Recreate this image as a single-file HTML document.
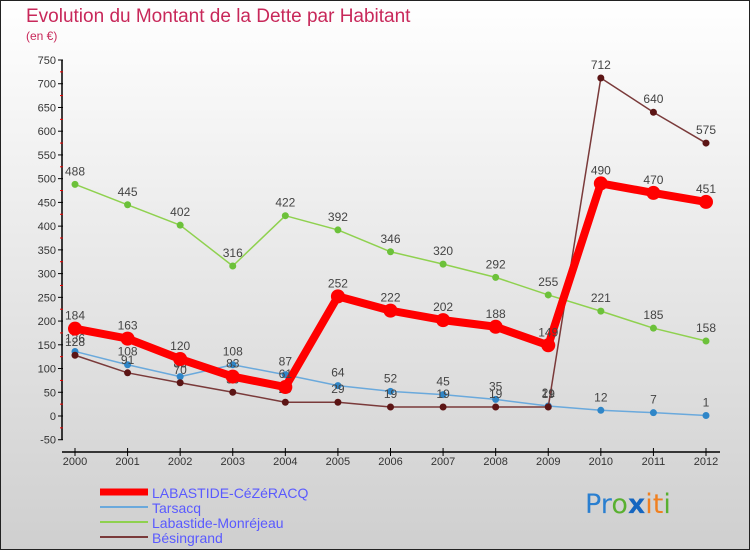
<!DOCTYPE html>
<html><head><meta charset="utf-8"><style>
html,body{margin:0;padding:0}
body{width:750px;height:550px;overflow:hidden;font-family:"Liberation Sans","DejaVu Sans",sans-serif}
</style></head><body>
<svg id="chart" width="750" height="550" xmlns="http://www.w3.org/2000/svg">
<defs><linearGradient id="bg" x1="0" y1="0" x2="0" y2="1"><stop offset="0" stop-color="#ffffff"/><stop offset="1" stop-color="#cfcfcf"/></linearGradient></defs>
<rect x="0.5" y="0.5" width="749" height="549" fill="url(#bg)" stroke="#222"/>
<text x="26" y="22" font-size="19" fill="#c8285a" font-weight="300">Evolution du Montant de la Dette par Habitant</text>
<text x="26" y="40" font-size="12" fill="#c8285a">(en €)</text>
<g id="axes"></g>
<g id="series"></g>
<g id="legend"></g>
<text x="585" y="513" font-size="27" font-family="'DejaVu Sans',sans-serif"><tspan fill="#2a7fd0">Pr</tspan><tspan fill="#59b030">o</tspan><tspan fill="#1566c0" font-weight="bold">x</tspan><tspan fill="#f08020">it</tspan><tspan fill="#59b030">i</tspan></text>
</svg>
<script>
const years=[2000,2001,2002,2003,2004,2005,2006,2007,2008,2009,2010,2011,2012];
const yTicks=[-50,0,50,100,150,200,250,300,350,400,450,500,550,600,650,700,750];
const labastide=[184,163,120,83,61,252,222,202,188,149,490,470,451];
const tarsacq=[136,108,83,108,87,64,52,45,35,21,12,7,1];
const monrejeau=[488,445,402,316,422,392,346,320,292,255,221,185,158];
const besingrand=[128,91,70,50,29,29,19,19,19,19,712,640,575];
const names=["LABASTIDE-CéZéRACQ","Tarsacq","Labastide-Monréjeau","Bésingrand"];

const NS="http://www.w3.org/2000/svg";
const x=i=>75+i*(706-75)/(years.length-1);
const y=v=>416-v*(356/750);
function mk(tag,attrs,parent){const e=document.createElementNS(NS,tag);for(const k in attrs)e.setAttribute(k,attrs[k]);parent.appendChild(e);return e;}
const axes=document.getElementById('axes');
const ser=document.getElementById('series');
// y axis
let ya=mk('line',{x1:62,y1:y(750),x2:62,y2:y(-50),stroke:'#000','stroke-width':1.5},axes);


yTicks.forEach(t=>{
  mk('line',{x1:58,y1:y(t),x2:63,y2:y(t),stroke:'#000'},axes);
  mk('line',{x1:60,y1:y(t+25),x2:63,y2:y(t+25),stroke:'#e00'},axes).style.display=t<750?'':'none';
  const tx=mk('text',{x:56,y:y(t)+4,'text-anchor':'end','font-size':11,fill:'#333'},axes);
  
  
  tx.textContent=t;
});
// x axis
let xa=mk('line',{x1:62,y1:452,x2:720,y2:452,stroke:'#000','stroke-width':1.5},axes);


years.forEach((yr,i)=>{
  mk('line',{x1:x(i),y1:448,x2:x(i),y2:456,stroke:'#000'},axes);
  const tx=mk('text',{x:x(i),y:465,'text-anchor':'middle','font-size':11,fill:'#333'},axes);
  
  
  tx.textContent=yr;
});
const cfg=[
 {d:monrejeau,c:'#8fd14f',dot:'#6cc13a',w:1.5,r:3.5,n:'monrejeau'},
 {d:tarsacq,c:'#6aa9dc',dot:'#2f86c8',w:1.5,r:3.5,n:'tarsacq'},
 {d:besingrand,c:'#7a3a3a',dot:'#5c1515',w:1.5,r:3.5,n:'besingrand'},
 {d:labastide,c:'#ff0000',dot:'#ff0000',w:8,r:7,n:'labastide'}
];
cfg.forEach(s=>{
  const g=mk('g',{},ser);
  
  
  const p=mk('polyline',{points:s.d.map((v,i)=>x(i)+','+y(v)).join(' '),fill:'none',stroke:s.c,'stroke-width':s.w,'stroke-linejoin':'round'},g);
  
  
  s.d.forEach((v,i)=>{
    const c=mk('circle',{cx:x(i),cy:y(v),r:s.r,fill:s.dot},g);
    
    
    const t=mk('text',{x:x(i),y:y(v)-9,'text-anchor':'middle','font-size':12,fill:'#444'},g);
    
    
    t.textContent=v;
  });
});
const lg=document.getElementById('legend');
const lc=[['#ff0000',7],['#6aa9dc',2],['#8fd14f',2],['#7a3a3a',2]];
names.forEach((n,i)=>{
  const yy=492+i*15;
  const l=mk('line',{x1:100,y1:yy,x2:148,y2:yy,stroke:lc[i][0],'stroke-width':lc[i][1]},lg);
  
  
  const t=mk('text',{x:152,y:yy+6,'font-size':14,fill:'#5a5aff'},lg);
  
  
  t.textContent=n;
});
</script>
</body></html>
